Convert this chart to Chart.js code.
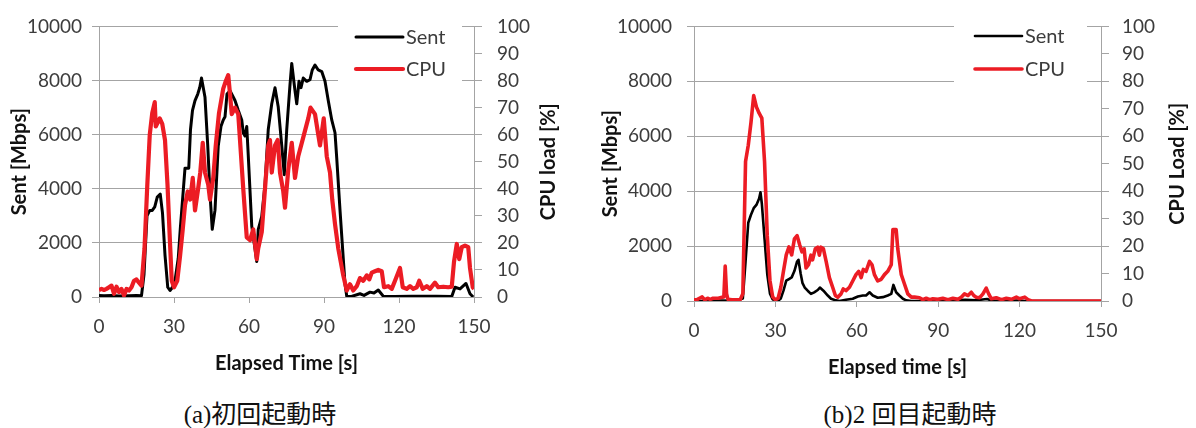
<!DOCTYPE html>
<html>
<head>
<meta charset="utf-8">
<script src="https://cdn.jsdelivr.net/npm/chart.js@4.4.1/dist/chart.umd.min.js"></script>
<style>
  html, body { margin: 0; padding: 0; background: #fff; }
  #wrap { position: relative; width: 1196px; height: 428px; overflow: hidden; }
  .panel { position: absolute; top: 0; width: 598px; height: 385px; }
  .caption {
    position: absolute; top: 394px; transform: translateX(-50%);
    font-family: "Liberation Serif", "Noto Sans CJK JP", serif;
    font-size: 25px; color: #111; white-space: nowrap;
  }
</style>
</head>
<body>
<div id="wrap">
  <div class="panel" style="left:0"><canvas id="chartA" width="598" height="385"></canvas></div>
  <div class="panel" style="left:598px"><canvas id="chartB" width="598" height="385"></canvas></div>
  <div class="caption" style="left:260px">(a)初回起動時</div>
  <div class="caption" style="left:910px">(b)2 回目起動時</div>
</div>
<script>
// ---- (a) first start: throughput [Mbps] and CPU load [%] over elapsed time [s] ----
const sentTimeA = [0,2,5,8,12,15,17,
  18,19.2,20.3,21.3,22.3,23.3,24.5,25.4,26.4,27.5,
  28.4,29.4,30.4,31.7,32.5,33.3,34.4,35.9,36.6,37.4,
  38.4,39.5,40.3,41,42.4,43.5,44.4,45.3,46.4,47.7,
  48.8,49.7,50.4,51.2,52.4,54.4,55.7,57.1,57.7,58.4,
  59.1,59.7,61.1,62.4,63.1,63.7,65.1,66.4,67.7,69.1,
  70.4,71.7,73.1,74.1,75.1,76.4,77.1,78.4,79.1,80,
  80.8,81.7,83.1,84.4,85.3,86.4,87.7,89.1,90.4,91.7,
  93.1,94.4,95.1,96.4,97.7,98.4,99.1,101,104.4,106,
  108.4,110,111.7,113.7,118,125,135,141.1,142.4,144.4,
  146.8,148.4,149.7];
const sentA = [60,50,60,40,50,60,50,
  830,3000,3200,3200,3330,3690,3800,3100,1550,360,
  240,360,600,1430,2500,3450,4760,4760,6190,6900,
  7260,7500,7740,8090,7380,5590,3810,2500,3210,5590,
  6310,6545,6660,7500,7620,7260,6900,6545,6070,5950,
  6300,5240,2620,1785,1310,2500,2975,4165,6190,7140,
  7735,7020,5590,4520,6190,7850,8630,7620,7140,7970,
  7735,8090,7970,8030,8390,8570,8390,8330,7970,7260,
  6545,6070,5120,3210,1430,480,30,20,120,60,
  180,150,260,30,20,30,30,20,360,300,
  500,120,0];
const cpuTimeA = [0,1,2,3,4,5,6,7,8,9,10,11,12,13,14,15,16,17,
  18.2,19.3,20.3,21.3,22.3,22.7,24.3,25.3,26.4,27.4,
  28.4,29.1,30,31.3,32.4,33.5,34.4,35.5,36.5,37.5,
  38.4,39.5,40.5,41.5,42.4,43.7,44.4,45.7,46.7,48,
  49.7,50.6,51.7,52.4,53.1,54.4,55.7,56.4,57.7,59.1,
  60.4,61.7,63.1,63.7,65.1,66.4,67.7,68.4,69.1,70.4,
  71.5,72.4,73.7,74.4,75.7,77.1,78.4,79.7,81.7,83.7,
  84.6,86.4,87.7,88.4,89.9,91.1,92.4,93.3,94.4,95.7,
  97.7,99.1,100.4,101.7,103.1,104.4,105.7,107.1,108.1,109.1,
  110.4,111.7,113.1,114,115.7,117.1,118.4,120.4,121.5,123.1,
  124.4,125.7,127.1,128.1,129.5,131.1,132.4,134.4,135.7,137.7,
  139.7,141.1,142,143.1,144.1,145.1,146.4,147.7,148.4,149.5,150];
const cpuA = [2.6,3,2.6,3,3.6,4.2,1.2,3.8,1.8,3,0.6,3,2.4,3.6,6,6.5,5.3,4.2,
  18,41,60,68,72,63,66,64,58,41.5,
  20,6,3.6,6,15,25,34,39,36,44,
  32,39,46,57,46,41.5,36,44,56,68,
  77,79.5,82,75,67.6,70,67.6,58,40,22,
  21,25,14,18,24,40,56,58,46,56,
  58,46,39,33,47,57,44,52,59,66,
  70,67.6,60,56,66,52,46,36,27,18,
  8,2.4,4.7,2.4,4,7,6,8,6.5,9,
  9.5,10,9.5,3.6,4,3,6,10.7,3.6,3,
  4,3,3.6,6,3,4,3,5.3,3.6,3.8,
  3.6,3.8,13,19.6,14,18.4,19,18.4,10.7,3.6,3];

// ---- (b) second start ----
const sentTimeB = [0,5,10,15,18,19,20,21,22,23,
  24,24.5,25,26,27,28,29,30,31,32,
  33,34,35,36,37,38,38.5,39.3,40,40.8,
  41.9,43.1,44.3,45.6,46.4,47.7,49.3,50.5,52.3,53.6,
  56,58.5,60.4,62.2,63.4,64.7,65.9,67.7,69.6,71.4,
  72.7,73.5,74.5,75.7,77,78.2,80,90,100,104,
  108,110,120,122,150];
const sentB = [0,10,20,10,94,1440,2850,3140,3380,3500,
  3730,3960,3550,2260,975,270,60,10,10,94,
  390,740,800,860,1090,1440,1500,1000,650,490,
  375,258,317,400,490,375,200,82,23,0,
  47,82,164,200,200,317,200,117,140,200,
  258,586,317,200,82,23,0,0,40,30,
  70,10,20,0,0];
const cpuTimeB = [0,1,2,3,4,5,6,7,8,9,
  10,11,11.5,12,12.5,14,16,17,18,19,
  20,21,22,23,24,25,26,27,28,29,
  30,31,32,33,34,35,36,37,38,39,
  39.8,40.6,41.3,42.2,43.1,43.7,44.7,45.6,46.2,46.8,
  47.7,48.7,49.9,51.1,52.1,53,54.2,55,56,57.3,
  58.5,59.7,60.7,61.6,62.4,63.4,64.7,65.6,66.5,67.7,
  69,70.2,71.4,72.7,73.3,74.5,75.1,76.4,77.6,78.8,
  80.1,81.3,83.1,84.3,85.6,86.8,88,89.9,91.7,93.6,
  95.4,97.3,98.5,99.7,101,102.2,103.1,104,105.3,106.5,
  107.7,108.6,109.6,111.4,113.3,115.1,117,118.8,120,121.9,
  123.1,124.4,150];
const cpuB = [0.4,0.4,1,1.5,0.4,1,0.6,1,1,1,
  1.3,1.5,12.7,2.7,0.6,0.4,0.4,0.4,2.7,50.8,
  56.7,65,74.8,70.7,68.4,66.6,50.8,23.8,7.4,1.5,
  0.4,1,5,11,16.8,19.7,16.8,22.6,23.8,20.3,
  17.9,19,12,13.2,16.7,15,19,19.6,16.7,19.6,
  19,14.4,8.5,5,2,1.4,2.6,4.4,3.8,5,
  7.3,9.6,10.8,8.5,11.5,10.8,14.4,13.2,9.6,7.3,
  7.9,9.6,10.8,13.2,26,26,19,9.6,6.1,2.6,
  1.4,1.4,1.2,0.5,1,0.5,0.8,0.6,1,0.5,
  1,0.6,1.4,2.6,2,3.2,2,1.4,1.2,2.6,
  4.7,2.6,0.8,1.2,0.5,1,0.6,1.4,0.8,1.4,
  0.5,0,0];

// ---- axis ranges and labels ----
const sentTicks = [0, 2000, 4000, 6000, 8000, 10000];
const cpuTicks = [0, 10, 20, 30, 40, 50, 60, 70, 80, 90, 100];
const timeTicks = [0, 30, 60, 90, 120, 150];
const seriesNames = ['Sent', 'CPU'];
const yTitle = 'Sent [Mbps]';
const xTitleA = 'Elapsed Time [s]';
const xTitleB = 'Elapsed time [s]';
const y1TitleA = 'CPU load [%]';
const y1TitleB = 'CPU Load [%]';

const GRID = '#a4a4a4';
const TEXT = '#3c3c3c';
const RED = '#ec1c24';
const FONT = 'Lato';

// white legend box with line samples, drawn inside the plot area
const boxLegend = {
  id: 'boxLegend',
  afterDatasetsDraw(chart, args, o) {
    const ctx = chart.ctx;
    ctx.save();
    ctx.fillStyle = '#fff';
    ctx.fillRect(o.box[0], o.box[1], o.box[2], o.box[3]);
    ctx.font = `${o.size}px ${FONT}`;
    ctx.textBaseline = 'middle';
    ctx.textAlign = 'left';
    chart.data.datasets.forEach((ds, i) => {
      const y = o.y + i * o.gap;
      ctx.strokeStyle = ds.borderColor;
      ctx.lineWidth = ds.borderWidth;
      ctx.lineCap = 'round';
      ctx.beginPath();
      ctx.moveTo(o.x, y);
      ctx.lineTo(o.x + o.len, y);
      ctx.stroke();
      ctx.fillStyle = TEXT;
      ctx.fillText(ds.label, o.x + o.len + 3, y + 1);
    });
    ctx.restore();
  }
};

// right-hand axis title, reading bottom to top like the left one
const sideTitle = {
  id: 'sideTitle',
  afterDraw(chart, args, o) {
    const { ctx, chartArea } = chart;
    ctx.save();
    ctx.translate(o.x, (chartArea.top + chartArea.bottom) / 2);
    ctx.rotate(-Math.PI / 2);
    ctx.font = `bold ${o.size}px ${FONT}`;
    ctx.textAlign = 'center';
    ctx.textBaseline = 'middle';
    ctx.fillStyle = '#111';
    ctx.fillText(o.text, 0, 0);
    ctx.restore();
  }
};

const pts = (xs, ys) => xs.map((x, i) => ({ x, y: ys[i] }));
const fixedTicks = list => (scale) => { scale.ticks = list.map(v => ({ value: v })); };

function makeChart(id, d, g) {
  new Chart(document.getElementById(id), {
    type: 'line',
    data: {
      datasets: [
        { label: seriesNames[0], data: pts(d.sentTime, d.sent), yAxisID: 'y',
          borderColor: '#000', borderWidth: g.blackW, pointRadius: 0, tension: 0, order: 1,
          borderJoinStyle: 'round' },
        { label: seriesNames[1], data: pts(d.cpuTime, d.cpu), yAxisID: 'y1',
          borderColor: RED, borderWidth: g.redW, pointRadius: 0, tension: 0, order: 0,
          borderJoinStyle: 'round' }
      ]
    },
    options: {
      responsive: false,
      animation: false,
      devicePixelRatio: 1,
      layout: { padding: { top: 16, left: 0, right: 0, bottom: 0 } },
      plugins: {
        legend: { display: false },
        tooltip: { enabled: false },
        boxLegend: g.legend,
        sideTitle: { x: g.y1TitleX, text: d.y1Title, size: 20 }
      },
      scales: {
        x: {
          type: 'linear', min: timeTicks[0], max: timeTicks[timeTicks.length - 1],
          afterBuildTicks: fixedTicks(timeTicks),
          afterFit: s => { s.height = g.bottomH; },
          grid: { drawOnChartArea: false, drawTicks: true, tickLength: 6, color: GRID },
          border: { display: true, color: GRID, width: 1 },
          ticks: { font: { family: FONT, size: 19 }, color: TEXT, padding: g.xPad, maxRotation: 0,
                   callback: v => String(v) },
          title: { display: true, text: d.xTitle, color: '#111',
                   font: { family: FONT, size: 20, weight: 'bold' },
                   padding: { top: 0, bottom: g.xTitlePad } }
        },
        y: {
          position: 'left', min: sentTicks[0], max: sentTicks[sentTicks.length - 1],
          afterBuildTicks: fixedTicks(sentTicks),
          afterFit: s => { s.width = g.leftW; },
          grid: { color: GRID, drawTicks: true, tickLength: 7 },
          border: { display: true, color: GRID, width: 1 },
          ticks: { font: { family: FONT, size: 19 }, color: TEXT, padding: g.yPad,
                   callback: v => String(v) },
          title: { display: true, text: yTitle, color: '#111',
                   font: { family: FONT, size: 20, weight: 'bold' },
                   padding: { top: g.yTitlePad, bottom: 0 } }
        },
        y1: {
          position: 'right', min: cpuTicks[0], max: cpuTicks[cpuTicks.length - 1],
          afterBuildTicks: fixedTicks(cpuTicks),
          afterFit: s => { s.width = g.rightW; },
          grid: { drawOnChartArea: false, drawTicks: true, tickLength: 8, color: GRID },
          border: { display: true, color: GRID, width: 1 },
          ticks: { font: { family: FONT, size: 19 }, color: TEXT, padding: g.y1Pad,
                   callback: v => String(v) }
        }
      }
    },
    plugins: [boxLegend, sideTitle]
  });
}

function drawAll() {
  makeChart('chartA',
    { sentTime: sentTimeA, sent: sentA, cpuTime: cpuTimeA, cpu: cpuA, xTitle: xTitleA, y1Title: y1TitleA },
    { leftW: 99, rightW: 124, bottomH: 88, yPad: 10, y1Pad: 15, xPad: 12, yTitlePad: 8, xTitlePad: 9,
      y1TitleX: 549, blackW: 3, redW: 4.2,
      legend: { box: [338, 20, 124, 68], x: 356, y: 37, gap: 32, len: 47, size: 20 } });
  makeChart('chartB',
    { sentTime: sentTimeB, sent: sentB, cpuTime: cpuTimeB, cpu: cpuB, xTitle: xTitleB, y1Title: y1TitleB },
    { leftW: 96, rightW: 95, bottomH: 84, yPad: 15, y1Pad: 13, xPad: 12, yTitlePad: 1, xTitlePad: 5,
      y1TitleX: 580, blackW: 2.6, redW: 3.6,
      legend: { box: [356, 20, 133, 68], x: 377, y: 36, gap: 33, len: 47, size: 20 } });
}

Promise.all([
  document.fonts.load(`19px ${FONT}`),
  document.fonts.load(`bold 20px ${FONT}`)
]).then(drawAll, drawAll);
</script>
</body>
</html>
